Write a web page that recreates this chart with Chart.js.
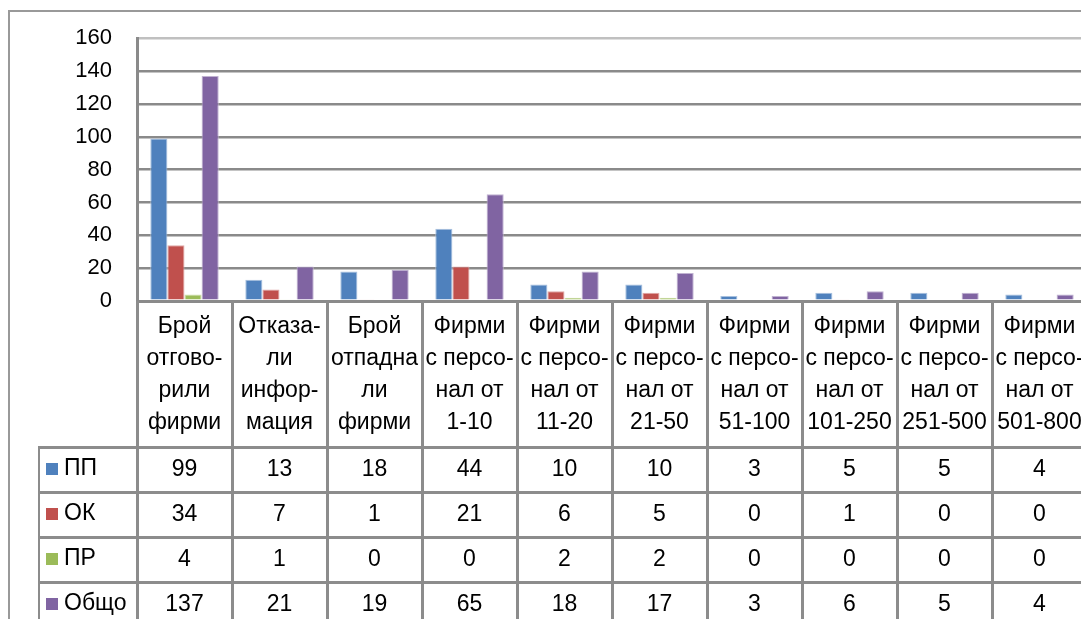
<!DOCTYPE html>
<html>
<head>
<meta charset="utf-8">
<script src="https://cdn.jsdelivr.net/npm/chart.js@4/dist/chart.umd.min.js"></script>
<style>
  html, body { margin: 0; padding: 0; background: #fff; overflow: hidden; }
  #wrap { position: absolute; left: 0; top: 0; width: 1090px; height: 619px; }
</style>
</head>
<body>
<div id="wrap"><canvas id="chartBox" width="1090" height="619"></canvas></div>
<script>
// categories (each one split in lines as in the data table header)
const categories = [
    ['Брой', 'отгово-', 'рили', 'фирми'],
    ['Отказа-', 'ли', 'инфор-', 'мация'],
    ['Брой', 'отпадна', 'ли', 'фирми'],
    ['Фирми', 'с персо-', 'нал от', '1-10'],
    ['Фирми', 'с персо-', 'нал от', '11-20'],
    ['Фирми', 'с персо-', 'нал от', '21-50'],
    ['Фирми', 'с персо-', 'нал от', '51-100'],
    ['Фирми', 'с персо-', 'нал от', '101-250'],
    ['Фирми', 'с персо-', 'нал от', '251-500'],
    ['Фирми', 'с персо-', 'нал от', '501-800']
]
const seriesNames = ['ПП', 'ОК', 'ПР', 'Общо']
const pp = [99, 13, 18, 44, 10, 10, 3, 5, 5, 4]
const ok = [34, 7, 1, 21, 6, 5, 0, 1, 0, 0]
const pr = [4, 1, 0, 0, 2, 2, 0, 0, 0, 0]
const total = [137, 21, 19, 65, 18, 17, 3, 6, 5, 4]
const yTicks = [0, 20, 40, 60, 80, 100, 120, 140, 160]

const colors = ['#4F81BD', '#C0504D', '#9BBB59', '#8064A2']
const edges = ['#a7c0de', '#e0a8a6', '#cdddac', '#c0b2d1']
const lineGray = '#8c8c8c'
const font = '"Liberation Sans", Arial, sans-serif'

const dataTable = {
    id: 'dataTable',
    beforeDraw(chart) {
        const c = chart.ctx
        c.save()
        c.fillStyle = '#fff'
        c.fillRect(0, 0, chart.width, chart.height)
        // outer chart border
        c.strokeStyle = '#999'
        c.lineWidth = 2
        c.beginPath()
        c.moveTo(9, chart.height)
        c.lineTo(9, 11)
        c.lineTo(chart.width, 11)
        c.stroke()
        c.restore()
    },
    afterDraw(chart) {
        const c = chart.ctx
        const x = chart.scales.x
        const area = chart.chartArea
        const colW = (area.right - area.left) / categories.length
        const rows = [pp, ok, pr, total]
        const headBottom = 447
        const rowH = 45
        c.save()
        c.strokeStyle = lineGray
        c.lineWidth = 3
        // vertical lines
        for (let i = 0; i <= categories.length; i++) {
            const lx = Math.round(area.left + i * colW) + 0.5
            c.beginPath()
            c.moveTo(lx, area.bottom)
            c.lineTo(lx, chart.height)
            c.stroke()
        }
        c.lineWidth = 2
        c.beginPath()
        c.moveTo(39, headBottom)
        c.lineTo(39, chart.height)
        c.stroke()
        // horizontal lines
        c.lineWidth = 3
        for (let r = 0; r < rows.length; r++) {
            const ly = headBottom + r * rowH + 0.5
            c.beginPath()
            c.moveTo(38, ly)
            c.lineTo(area.right, ly)
            c.stroke()
        }
        // header text
        c.fillStyle = '#000'
        c.font = '23px ' + font
        c.textAlign = 'center'
        c.textBaseline = 'middle'
        categories.forEach((lines, i) => {
            const cx = x.getPixelForValue(i)
            lines.forEach((t, k) => c.fillText(t, cx, 327 + k * 32))
        })
        // values
        rows.forEach((vals, r) => {
            const cy = headBottom + r * rowH + 23
            vals.forEach((v, i) => c.fillText(String(v), x.getPixelForValue(i), cy))
        })
        // legend keys
        c.textAlign = 'left'
        seriesNames.forEach((name, r) => {
            const cy = headBottom + r * rowH + 22
            c.fillStyle = colors[r]
            c.fillRect(46, cy - 6, 12, 12)
            c.fillStyle = '#000'
            c.fillText(name, 64, cy)
        })
        c.restore()
    }
}

const context = document.querySelector('#chartBox').getContext('2d')
const chart = new Chart(context, {
    type: 'bar',
    data: {
        labels: categories.map(l => l.join(' ')),
        datasets: [pp, ok, pr, total].map((d, i) => ({
            label: seriesNames[i],
            data: d,
            backgroundColor: colors[i],
            borderColor: edges[i],
            borderWidth: 1,
            categoryPercentage: 0.72,
            barPercentage: 1
        }))
    },
    options: {
        responsive: false,
        animation: false,
        events: [],
        layout: { padding: { left: 0, right: 3, top: 27, bottom: 318 } },
        plugins: { legend: { display: false }, tooltip: { enabled: false } },
        scales: {
            x: {
                ticks: { display: false },
                grid: { display: false },
                border: { display: false },
                afterFit: s => { s.height = 0 }
            },
            y: {
                min: 0,
                max: 160,
                afterBuildTicks: s => { s.ticks = yTicks.map(v => ({ value: v })) },
                afterFit: s => { s.width = 137 },
                ticks: { color: '#000', padding: 25, font: { family: font, size: 22 } },
                grid: {
                    drawTicks: false,
                    color: ctx => ctx.tick && ctx.tick.value === 160 ? '#c0c0c0' : '#8a8a8a',
                    lineWidth: ctx => ctx.tick && ctx.tick.value === 0 ? 3 : 2.5
                },
                border: { display: true, color: '#8a8a8a', width: 3 }
            }
        }
    },
    plugins: [dataTable]
})
</script>
</body>
</html>
